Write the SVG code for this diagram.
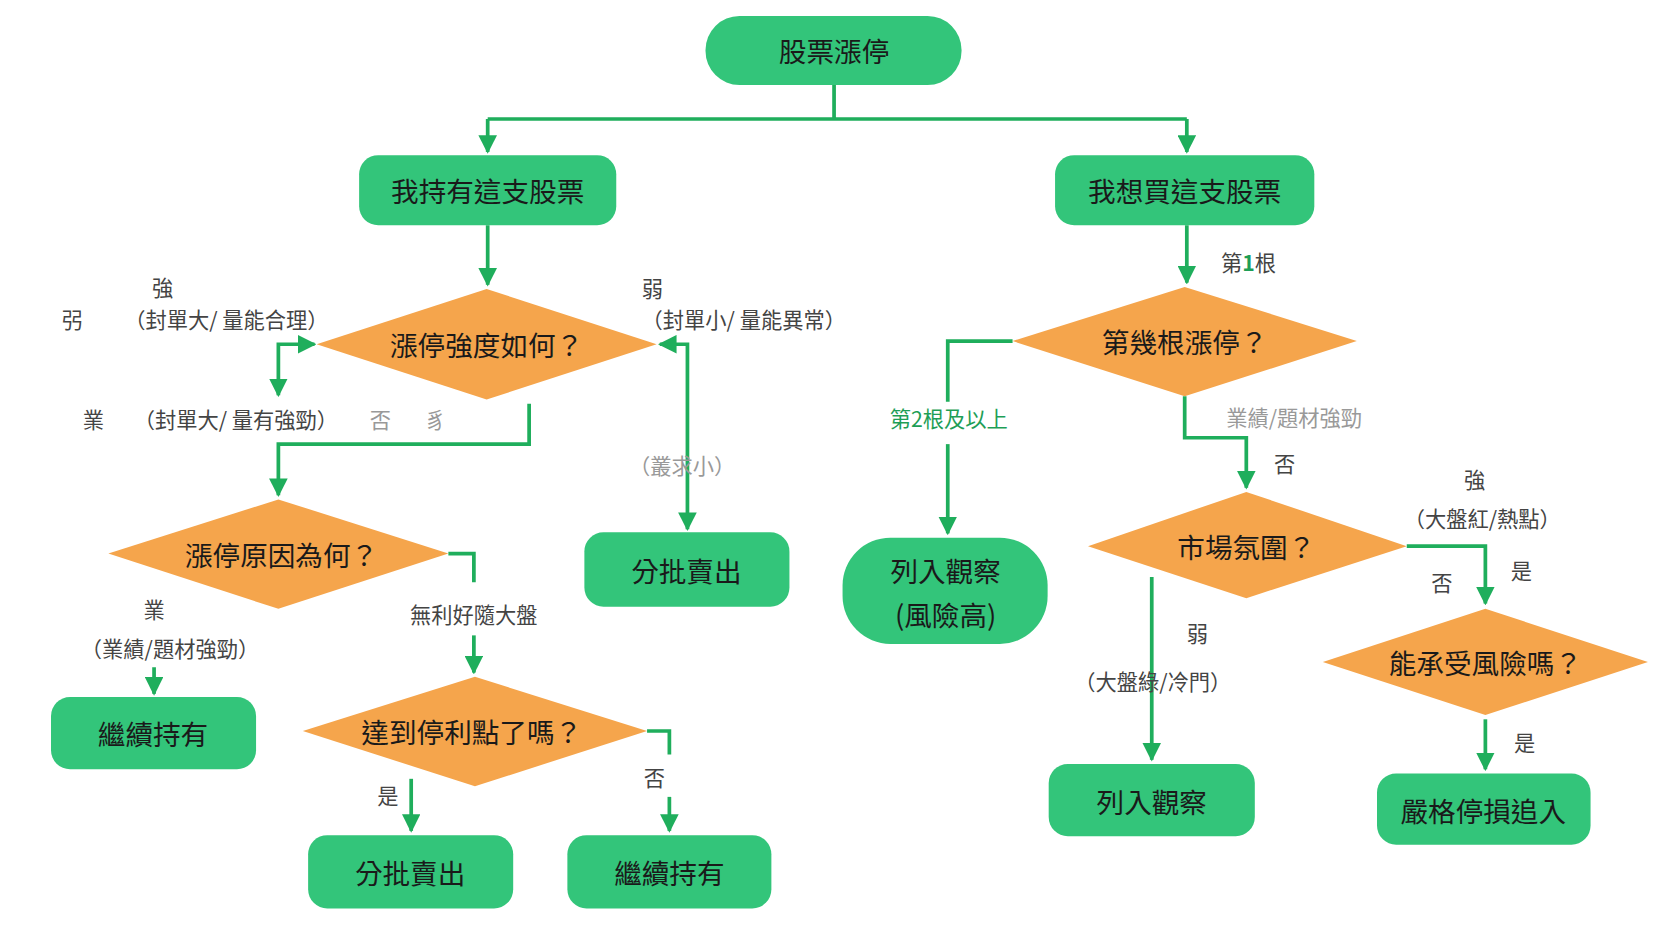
<svg xmlns="http://www.w3.org/2000/svg" width="1666" height="937" viewBox="0 0 1666 937">
<defs>
<marker id="ah" viewBox="0 0 10 10" refX="9" refY="5" markerWidth="5" markerHeight="5" orient="auto-start-reverse"><path d="M0,0 L10,5 L0,10 z" fill="#1fae5c"/></marker>
<style>
.n{fill:#33c57a}
.d{fill:#f5a54c}
.t{font-family:"Noto Sans CJK TC","Noto Sans CJK SC",sans-serif;font-size:26px;fill:#1a1a1a;text-anchor:middle;dominant-baseline:central}
.l{font-family:"Noto Sans CJK TC","Noto Sans CJK SC",sans-serif;font-size:20px;fill:#444;text-anchor:middle;dominant-baseline:central}
.g{fill:#1e9e56}
.lg{fill:#999}
.c path{fill:none;stroke:#1fae5c;stroke-width:3.5}
</style>
</defs>
<rect width="1666" height="937" fill="#fff"/>
<g transform="scale(1.0625)">
<g class="c">
<path d="M785,80 V112 M459,112 H1117"/>
<path d="M459,112 V143" marker-end="url(#ah)"/>
<path d="M1117,112 V143" marker-end="url(#ah)"/>
<path d="M459,212 V268" marker-end="url(#ah)"/>
<path d="M262,372 V324 H296" marker-start="url(#ah)" marker-end="url(#ah)"/>
<path d="M498,380 V418 H262 V466" marker-end="url(#ah)"/>
<path d="M647,498 V324 H621" marker-start="url(#ah)" marker-end="url(#ah)"/>
<path d="M1117,212 V266" marker-end="url(#ah)"/>
<path d="M953,321 H892 V378"/>
<path d="M892,418 V502" marker-end="url(#ah)"/>
<path d="M1115,373 V412 H1173 V459" marker-end="url(#ah)"/>
<path d="M1324,514 H1398 V568" marker-end="url(#ah)"/>
<path d="M1084,543 V715" marker-end="url(#ah)"/>
<path d="M1398,677 V724" marker-end="url(#ah)"/>
<path d="M422,521 H446 V548"/>
<path d="M446,598 V633" marker-end="url(#ah)"/>
<path d="M145,628 V653" marker-end="url(#ah)"/>
<path d="M609,688 H630 V710"/>
<path d="M630,750 V782" marker-end="url(#ah)"/>
<path d="M387,733 V782" marker-end="url(#ah)"/>
</g>
<g id="start"><rect class="n" x="664" y="15" width="241" height="65" rx="32"/><text class="t" x="785" y="47">股票漲停</text></g>
<g id="hold"><rect class="n" x="338" y="146" width="242" height="66" rx="18"/><text class="t" x="459" y="179">我持有這支股票</text></g>
<g id="buy"><rect class="n" x="993" y="146" width="244" height="66" rx="18"/><text class="t" x="1115" y="179">我想買這支股票</text></g>
<g id="strength"><polygon class="d" points="298,324 458,272 618,324 458,376"/><text class="t" x="458" y="324">漲停強度如何？</text></g>
<g id="nth"><polygon class="d" points="953,321 1115,270 1277,321 1115,373"/><text class="t" x="1115" y="321">第幾根漲停？</text></g>
<g id="reason"><polygon class="d" points="102,521 262,470 422,521 262,573"/><text class="t" x="265" y="521">漲停原因為何？</text></g>
<g id="sell1"><rect class="n" x="550" y="501" width="193" height="70" rx="18"/><text class="t" x="646" y="536">分批賣出</text></g>
<g id="watchHigh"><rect class="n" x="793" y="506" width="193" height="100" rx="45"/><text class="t" x="890" y="536">列入觀察</text><text class="t" x="890" y="578">(風險高)</text></g>
<g id="market"><polygon class="d" points="1024,514 1173,463 1324,514 1173,563"/><text class="t" x="1173" y="514">市場氛圍？</text></g>
<g id="risk"><polygon class="d" points="1245,623 1398,573 1551,623 1398,673"/><text class="t" x="1398" y="623">能承受風險嗎？</text></g>
<g id="keep1"><rect class="n" x="48" y="656" width="193" height="68" rx="18"/><text class="t" x="144" y="690">繼續持有</text></g>
<g id="target"><polygon class="d" points="285,688 447,637 609,688 447,740"/><text class="t" x="444" y="688">達到停利點了嗎？</text></g>
<g id="sell2"><rect class="n" x="290" y="786" width="193" height="69" rx="18"/><text class="t" x="386" y="821">分批賣出</text></g>
<g id="keep2"><rect class="n" x="534" y="786" width="192" height="69" rx="18"/><text class="t" x="630" y="821">繼續持有</text></g>
<g id="watch"><rect class="n" x="987" y="719" width="194" height="68" rx="18"/><text class="t" x="1084" y="754">列入觀察</text></g>
<g id="stop"><rect class="n" x="1296" y="728" width="201" height="67" rx="18"/><text class="t" x="1396" y="762">嚴格停損追入</text></g>
<g id="labels">
<text class="l" x="153" y="270">強</text>
<text class="l" x="68" y="300">弜</text>
<text class="l" x="213" y="300">（封單大/ 量能合理）</text>
<text class="l" x="614" y="271">弱</text>
<text class="l" x="700" y="300">（封單小/ 量能異常）</text>
<text class="l" x="88" y="394">業</text>
<text class="l" x="222" y="394">（封單大/ 量有強勁）</text>
<text class="l lg" x="358" y="394">否</text>
<text class="l lg" x="410" y="394">豸</text>
<text class="l lg" x="642" y="437">（叢求小）</text>
<text class="l" x="1175" y="246">第<tspan class="g" font-weight="bold">1</tspan>根</text>
<text class="l g" x="893" y="393" font-size="24">第2根及以上</text>
<text class="l lg" x="1218" y="392">業績/題材強勁</text>
<text class="l" x="1209" y="435">否</text>
<text class="l" x="1388" y="450">強</text>
<text class="l" x="1395" y="487">（大盤紅/熱點）</text>
<text class="l" x="1357" y="547">否</text>
<text class="l" x="1432" y="536">是</text>
<text class="l" x="1127" y="595">弱</text>
<text class="l" x="1085" y="640">（大盤綠/冷門）</text>
<text class="l" x="1435" y="698">是</text>
<text class="l" x="446" y="577">無利好隨大盤</text>
<text class="l" x="145" y="573">業</text>
<text class="l" x="160" y="609">（業績/題材強勁）</text>
<text class="l" x="616" y="731">否</text>
<text class="l" x="365" y="748">是</text>
</g>
</g>
</svg>
